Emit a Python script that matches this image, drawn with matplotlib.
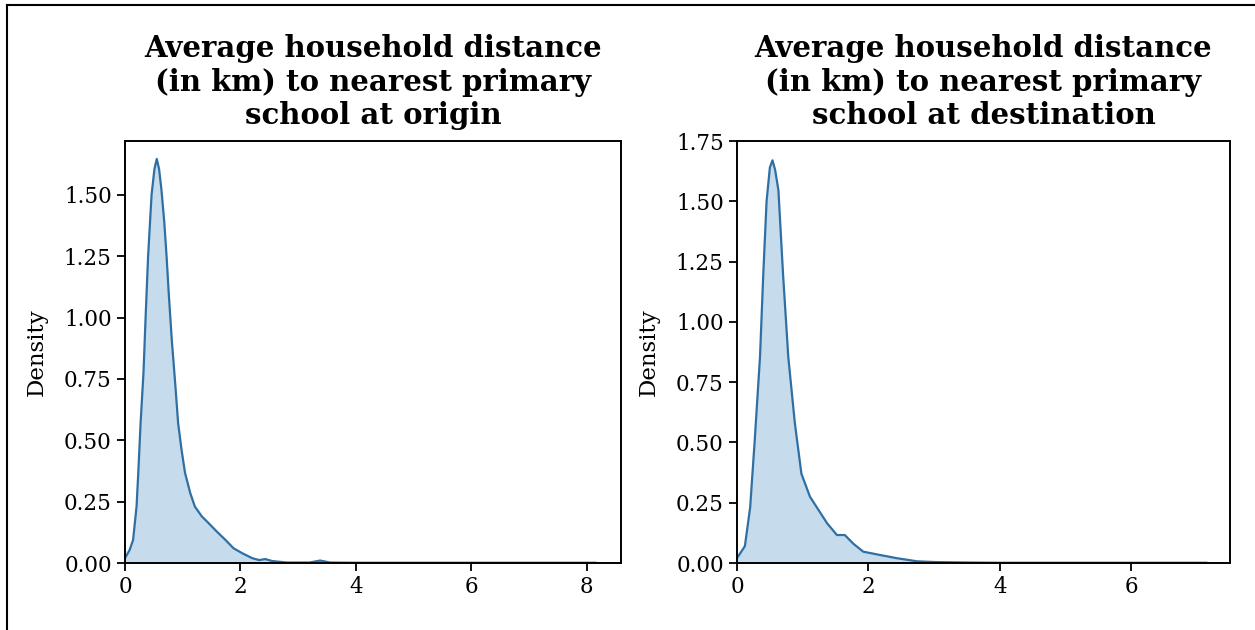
import matplotlib
matplotlib.use("Agg")
import matplotlib.pyplot as plt
from matplotlib.lines import Line2D

plt.rcParams['font.family'] = ['DejaVu Serif']

# density curves (distance in km, density)
origin_km = [0.0, 0.08, 0.14, 0.20, 0.23, 0.27, 0.32, 0.36, 0.40, 0.46, 0.51, 0.55,
             0.59, 0.63, 0.68, 0.72, 0.76, 0.81, 0.87, 0.92, 0.98, 1.04, 1.13, 1.21,
             1.33, 1.45, 1.59, 1.74, 1.88, 2.03, 2.20, 2.32, 2.43, 2.55, 2.80, 3.20,
             3.38, 3.55, 4.0, 5.0, 6.0, 7.0, 8.15]
origin_density = [0.02, 0.053, 0.094, 0.23, 0.367, 0.57, 0.775, 1.02, 1.25, 1.50, 1.606, 1.647,
                  1.606, 1.524, 1.39, 1.25, 1.09, 0.91, 0.73, 0.57, 0.46, 0.367, 0.285, 0.23,
                  0.19, 0.162, 0.128, 0.094, 0.06, 0.04, 0.02, 0.012, 0.016, 0.008, 0.002, 0.002,
                  0.01, 0.002, 0.001, 0.001, 0.001, 0.001, 0.001]

dest_km = [0.0, 0.12, 0.20, 0.27, 0.35, 0.40, 0.45, 0.50, 0.54, 0.58, 0.63, 0.70,
           0.78, 0.88, 0.98, 1.11, 1.24, 1.37, 1.52, 1.64, 1.77, 1.92, 2.18, 2.43,
           2.74, 3.0, 3.5, 4.0, 5.0, 6.0, 7.14]
dest_density = [0.02, 0.07, 0.23, 0.51, 0.855, 1.20, 1.50, 1.64, 1.67, 1.63, 1.546, 1.20,
                0.855, 0.58, 0.37, 0.275, 0.22, 0.165, 0.116, 0.116, 0.08, 0.047, 0.033, 0.02,
                0.007, 0.004, 0.002, 0.001, 0.001, 0.001, 0.001]

titles = ["Average household distance\n(in km) to nearest primary\nschool at origin",
          "Average household distance\n(in km) to nearest primary\nschool at destination"]
x_limits = [(0, 8.59), (0, 7.5)]
y_limits = [(0, 1.72), (0, 1.75)]
x_ticks = [[0, 2, 4, 6, 8], [0, 2, 4, 6]]
y_ticks = [[0, 0.25, 0.5, 0.75, 1.0, 1.25, 1.5], [0, 0.25, 0.5, 0.75, 1.0, 1.25, 1.5, 1.75]]

fig = plt.figure(figsize=(12.55, 6.3), dpi=100)
ax1 = fig.add_axes([125 / 1255, 67 / 630, 496 / 1255, 422 / 630])
ax2 = fig.add_axes([737 / 1255, 67 / 630, 493 / 1255, 422 / 630])

curves = [(origin_km, origin_density), (dest_km, dest_density)]
for i, ax in enumerate([ax1, ax2]):
    xs, ys = curves[i]
    ax.fill_between(xs, ys, color='#1f77b4', alpha=0.25, linewidth=0)
    ax.plot(xs, ys, color='#2f6fa3', linewidth=1.6)
    ax.set_xlim(x_limits[i])
    ax.set_ylim(y_limits[i])
    ax.set_xticks(x_ticks[i])
    ax.set_yticks(y_ticks[i])
    ax.set_yticklabels(["%.2f" % v for v in y_ticks[i]])
    ax.tick_params(labelsize=15.5, length=6, width=1.3)
    for s in ax.spines.values():
        s.set_linewidth(1.4)
    ax.set_ylabel("Density", fontsize=16.5, labelpad=12)
    ax.set_title(titles[i], fontsize=21, fontweight='bold', pad=12, linespacing=1.2)

# frame of the screenshot (left and top edges only)
fig.add_artist(Line2D([7 / 1255, 7 / 1255], [0, 1 - 5 / 630], color='black', linewidth=1.5))
fig.add_artist(Line2D([7 / 1255, 1], [1 - 5 / 630, 1 - 5 / 630], color='black', linewidth=1.5))

fig.savefig("out.png", dpi=100)
